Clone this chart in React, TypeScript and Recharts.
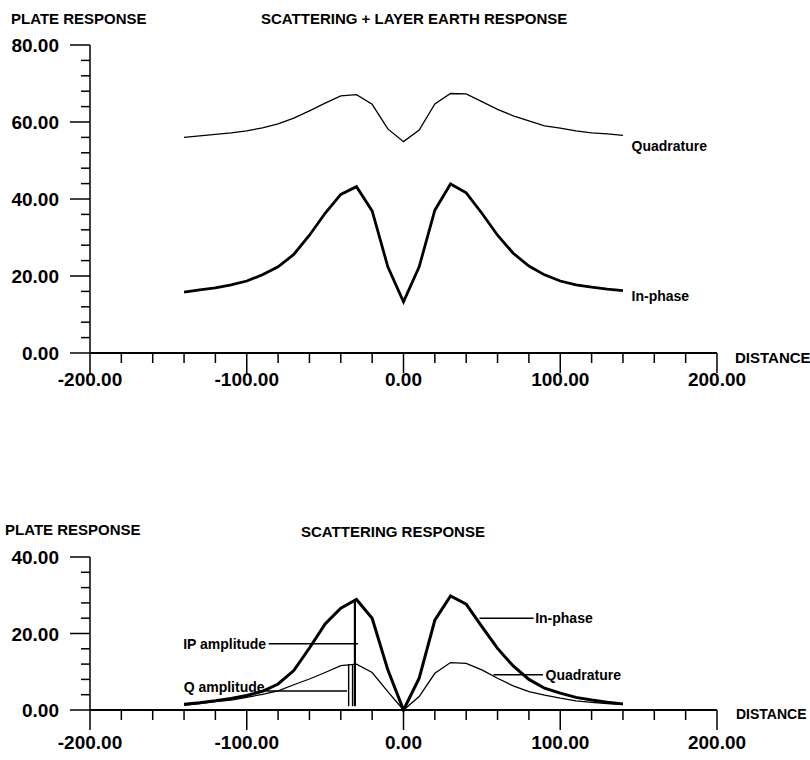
import React from 'react';
import { LineChart, Line, XAxis, YAxis, ReferenceLine, ReferenceDot, Customized } from 'recharts';

// ---------- data ----------
const distance = [-140, -130, -120, -110, -100, -90, -80, -70, -60, -50, -40, -30, -20, -10, 0, 10, 20, 30, 40, 50, 60, 70, 80, 90, 100, 110, 120, 130, 140];

// Scattering + layer earth response
const layerInPhase = [15.8, 16.4, 16.9, 17.7, 18.7, 20.3, 22.4, 25.6, 30.6, 36.3, 41.2, 43.2, 36.9, 22.4, 13.3, 22.4, 37.1, 43.9, 41.6, 36.3, 30.6, 25.9, 22.6, 20.3, 18.7, 17.7, 17.1, 16.6, 16.2];
const layerQuadrature = [56.0, 56.4, 56.8, 57.2, 57.7, 58.5, 59.5, 61.0, 62.9, 64.9, 66.8, 67.1, 64.6, 58.2, 54.9, 57.9, 64.7, 67.4, 67.3, 65.3, 63.3, 61.6, 60.3, 59.0, 58.4, 57.7, 57.2, 56.9, 56.5];

// Scattering response
const scatInPhase = [1.5, 1.9, 2.4, 3.0, 3.8, 4.9, 6.8, 10.3, 16.2, 22.5, 26.6, 28.9, 24.0, 10.5, 0, 8.3, 23.5, 29.8, 27.7, 21.8, 16.1, 11.5, 8.0, 5.7, 4.4, 3.3, 2.6, 2.0, 1.6];
const scatQuadrature = [1.2, 1.7, 2.2, 2.6, 3.3, 4.1, 5.0, 6.6, 8.1, 9.8, 11.6, 12.0, 9.8, 4.8, 0, 3.5, 9.6, 12.4, 12.2, 10.5, 8.3, 6.3, 4.8, 3.9, 3.1, 2.4, 2.0, 1.7, 1.4];

// tick values
const xTicks = [-200, -180, -160, -140, -120, -100, -80, -60, -40, -20, 0, 20, 40, 60, 80, 100, 120, 140, 160, 180, 200];
const yTicksTop = [0, 4, 8, 12, 16, 20, 24, 28, 32, 36, 40, 44, 48, 52, 56, 60, 64, 68, 72, 76, 80];
const yTicksBottom = [0, 4, 8, 12, 16, 20, 24, 28, 32, 36, 40];

// annotation values (scattering response)
const ipPeakX = -31;
const ipPeakY = 28.9;
const qPeakXs = [-35, -32.5];
const qPeakY = 12.0;
const ipLeaderY = 17.3;
const qLeaderY = 5.0;

const topData = distance.map((d, i) => ({ x: d, ip: layerInPhase[i], q: layerQuadrature[i] }));
const bottomData = distance.map((d, i) => ({ x: d, ip: scatInPhase[i], q: scatQuadrature[i] }));

const FONT = '"Liberation Sans", Arial, sans-serif';

const YTick = (props: any) => {
  const { x, y, payload } = props;
  const v = payload.value;
  const major = v % 20 === 0;
  return (
    <g>
      <line x1={x - (major ? 20 : 9)} x2={x} y1={y} y2={y} stroke="#000" strokeWidth={1.5} />
      {major && (
        <text x={x - 31} y={y} dy={7} textAnchor="end" fontFamily={FONT} fontWeight="bold" fontSize={19} fill="#000">
          {v.toFixed(2)}
        </text>
      )}
    </g>
  );
};

const makeXTick = (labelOffset: number) => (props: any) => {
  const { x, y, payload } = props;
  const v = payload.value;
  const major = v % 100 === 0;
  return (
    <g>
      <line x1={x} x2={x} y1={y} y2={y + (major ? 20 : 10)} stroke="#000" strokeWidth={1.5} />
      {major && (
        <text x={x} y={y + labelOffset} textAnchor="middle" fontFamily={FONT} fontWeight="bold" fontSize={19} fill="#000">
          {v.toFixed(2)}
        </text>
      )}
    </g>
  );
};
const TopXTick = makeXTick(33);
const BottomXTick = makeXTick(39);

const textLabel = (text: string, anchor: 'start' | 'end', dx: number) => (props: any) => {
  const vb = props.viewBox || {};
  return (
    <text x={(vb.x || 0) + dx} y={vb.y || 0} dy={5} textAnchor={anchor} fontFamily={FONT} fontWeight="bold" fontSize={14} fill="#000">
      {text}
    </text>
  );
};

const TopTitles = () => (
  <g fontFamily={FONT} fontWeight="bold" fill="#000">
    <text x={11} y={24} fontSize={15}>PLATE RESPONSE</text>
    <text x={261} y={24} fontSize={15}>SCATTERING + LAYER EARTH RESPONSE</text>
    <text x={735} y={363} fontSize={15}>DISTANCE</text>
  </g>
);

const BottomTitles = () => (
  <g fontFamily={FONT} fontWeight="bold" fill="#000">
    <text x={5} y={135} fontSize={15}>PLATE RESPONSE</text>
    <text x={301} y={137} fontSize={15}>SCATTERING RESPONSE</text>
    <text x={736} y={319} fontSize={14}>DISTANCE</text>
  </g>
);

export default function App() {
  return (
    <div style={{ position: 'absolute', left: 0, top: 0, width: 810, height: 760, background: '#fff' }}>
      <div style={{ position: 'absolute', left: 0, top: 0 }}>
        <LineChart width={810} height={400} data={topData} margin={{ top: 45, right: 93, bottom: 17, left: 30 }}>
          <XAxis dataKey="x" type="number" domain={[-200, 200]} ticks={xTicks} interval={0} tickSize={0} tickMargin={0}
            tickLine={false} height={30} axisLine={{ stroke: '#000', strokeWidth: 2 }} tick={<TopXTick />} />
          <YAxis type="number" domain={[0, 80]} ticks={yTicksTop} interval={0} tickSize={0} tickMargin={0}
            tickLine={false} width={60} axisLine={{ stroke: '#000', strokeWidth: 1.5 }} tick={<YTick />} />
          <Line dataKey="q" stroke="#000" strokeWidth={1.3} dot={false} isAnimationActive={false} />
          <Line dataKey="ip" stroke="#000" strokeWidth={2.8} dot={false} isAnimationActive={false} />
          <ReferenceDot x={145.5} y={53.8} r={0} fill="none" stroke="none" label={{ content: textLabel('Quadrature', 'start', 0) }} />
          <ReferenceDot x={145.5} y={14.8} r={0} fill="none" stroke="none" label={{ content: textLabel('In-phase', 'start', 0) }} />
          <Customized component={TopTitles} />
        </LineChart>
      </div>
      <div style={{ position: 'absolute', left: 0, top: 400 }}>
        <LineChart width={810} height={360} data={bottomData} margin={{ top: 157, right: 93, bottom: 20, left: 30 }}>
          <XAxis dataKey="x" type="number" domain={[-200, 200]} ticks={xTicks} interval={0} tickSize={0} tickMargin={0}
            tickLine={false} height={30} axisLine={{ stroke: '#000', strokeWidth: 2 }} tick={<BottomXTick />} />
          <YAxis type="number" domain={[0, 40]} ticks={yTicksBottom} interval={0} tickSize={0} tickMargin={0}
            tickLine={false} width={60} axisLine={{ stroke: '#000', strokeWidth: 1.5 }} tick={<YTick />} />
          <Line dataKey="q" stroke="#000" strokeWidth={1.3} dot={false} isAnimationActive={false} />
          <Line dataKey="ip" stroke="#000" strokeWidth={3} dot={false} isAnimationActive={false} />
          <ReferenceLine segment={[{ x: ipPeakX, y: 1 }, { x: ipPeakX, y: ipPeakY }]} stroke="#000" strokeWidth={2.2} />
          {qPeakXs.map((qx) => (
            <ReferenceLine key={qx} segment={[{ x: qx, y: 1 }, { x: qx, y: qPeakY }]} stroke="#000" strokeWidth={1.4} />
          ))}
          <ReferenceLine segment={[{ x: -86, y: ipLeaderY }, { x: -29, y: ipLeaderY }]} stroke="#000" strokeWidth={1.5} />
          <ReferenceLine segment={[{ x: -88, y: qLeaderY }, { x: -36, y: qLeaderY }]} stroke="#000" strokeWidth={1.5} />
          <ReferenceLine segment={[{ x: 48.5, y: 24 }, { x: 83, y: 24 }]} stroke="#000" strokeWidth={1.5} />
          <ReferenceLine segment={[{ x: 57.4, y: 9.2 }, { x: 89, y: 9.2 }]} stroke="#000" strokeWidth={1.5} />
          <ReferenceDot x={-87} y={ipLeaderY} r={0} fill="none" stroke="none" label={{ content: textLabel('IP amplitude', 'end', -1) }} />
          <ReferenceDot x={-88} y={6.0} r={0} fill="none" stroke="none" label={{ content: textLabel('Q amplitude', 'end', -1) }} />
          <ReferenceDot x={84} y={24} r={0} fill="none" stroke="none" label={{ content: textLabel('In-phase', 'start', 0) }} />
          <ReferenceDot x={90.6} y={9.2} r={0} fill="none" stroke="none" label={{ content: textLabel('Quadrature', 'start', 0) }} />
          <Customized component={BottomTitles} />
        </LineChart>
      </div>
    </div>
  );
}
